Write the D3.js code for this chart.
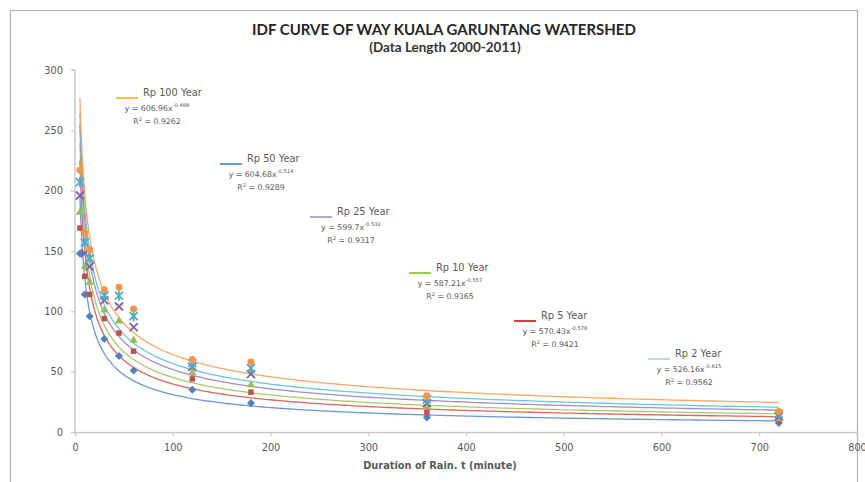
<!DOCTYPE html>
<html><head><meta charset="utf-8">
<script src="https://cdn.jsdelivr.net/npm/d3@7"></script>
<style>
body{margin:0;background:#fff;}
svg{display:block;}
</style></head>
<body>
<svg id="c" width="865" height="482"></svg>
<script>
// ---------- data ----------
const durations = [5, 10, 15, 30, 45, 60, 120, 180, 360, 720];
const rp2   = [148, 114,  96,  77,  63,  51, 35, 24, 12, 7.5];
const rp5   = [169, 129, 114,  94,  82,  67, 44, 33, 16, 9];
const rp10  = [182, 137, 124, 101,  92,  76, 49, 39, 21, 11];
const rp25  = [196, 148, 137, 109, 104,  87, 54, 48, 24, 13];
const rp50  = [207, 157, 144, 113, 113,  96, 57, 53, 27, 15];
const rp100 = [217, 165, 151, 118, 120, 102, 60, 58, 30, 17];
const seriesNames = ["Rp 2 Year", "Rp 5 Year", "Rp 10 Year", "Rp 25 Year", "Rp 50 Year", "Rp 100 Year"];
const coefA = [526.16, 570.43, 587.21, 599.7, 604.68, 606.96];
const coefB = [-0.615, -0.578, -0.557, -0.532, -0.514, -0.488];
const coefAText = ["526.16", "570.43", "587.21", "599.7", "604.68", "606.96"];
const coefBText = ["-0.615", "-0.578", "-0.557", "-0.532", "-0.514", "-0.488"];
const r2Text = ["0.9562", "0.9421", "0.9365", "0.9317", "0.9289", "0.9262"];
const xTicks = [0, 100, 200, 300, 400, 500, 600, 700, 800];
const yTicks = [0, 50, 100, 150, 200, 250, 300];
const titleText = "IDF CURVE OF WAY KUALA GARUNTANG WATERSHED";
const subtitleText = "(Data Length 2000-2011)";
const xTitle = "Duration of Rain. t (minute)";

// ---------- styles / layout ----------
const values = [rp2, rp5, rp10, rp25, rp50, rp100];
const markerColors = ["#4F81BD", "#C0504D", "#9BBB59", "#8064A2", "#4BACC6", "#F79646"];
const trendColors  = ["#5B8BD0", "#D9534F", "#9BC75A", "#9A80C0", "#5CC0D8", "#F7A055"];
const keyColors    = ["#B7DEE8", "#E03A3A", "#92D050", "#B4A7D6", "#6A9BD8", "#FFBE3C"];
const markerTypes  = ["diamond", "square", "triangle", "x", "star", "circle"];
// annotation anchors in pixels: [key line x, label centre y]
const annotPos = [[648, 353], [514, 315], [409, 267], [310, 211], [220, 158], [116, 92]];

const svg = d3.select("#c");
const x = d3.scaleLinear().domain([0, 800]).range([75, 857]);
const y = d3.scaleLinear().domain([0, 300]).range([432, 70]);
const grey = "#595959";
const fontNum = "'DejaVu Sans', Verdana, sans-serif";

// outer chart frame
svg.append("rect").attr("x", 10.5).attr("y", 10.5).attr("width", 847).attr("height", 520)
  .attr("fill", "none").attr("stroke", "#b0b0b0").attr("stroke-width", 1.2);

// title
svg.append("text").attr("x", 444).attr("y", 35).attr("text-anchor", "middle")
  .style("font-family", "Lato, sans-serif").attr("font-weight", "bold").attr("font-size", 15)
  .attr("fill", "#262626").text(titleText);
svg.append("text").attr("x", 445).attr("y", 52).attr("text-anchor", "middle")
  .style("font-family", "Lato, sans-serif").attr("font-weight", "bold").attr("font-size", 13.5)
  .attr("fill", "#333").text(subtitleText);

// axes
const yAxis = d3.axisLeft(y).tickValues(yTicks).tickSize(4).tickPadding(8);
const gy = svg.append("g").attr("transform", `translate(${x(0)},0)`).call(yAxis);
const xAxis = d3.axisBottom(x).tickValues(xTicks).tickSize(4).tickPadding(8);
const gx = svg.append("g").attr("transform", `translate(0,${y(0)})`).call(xAxis);
[gx, gy].forEach(g => {
  g.attr("font-family", null);
  g.select(".domain").attr("stroke", "#c8c8c8").attr("stroke-width", 1.5);
  g.selectAll(".tick line").attr("stroke", "#c8c8c8").attr("stroke-width", 1.2);
  g.selectAll(".tick text").attr("fill", grey).style("font-family", fontNum).attr("font-size", 9.8);
});
gy.select(".domain").attr("d", `M-4,${y(300)}H0V${y(0)}`);

svg.append("text").attr("x", 440).attr("y", 469).attr("text-anchor", "middle")
  .style("font-family", fontNum).attr("font-weight", "bold").attr("font-size", 9.8)
  .attr("fill", grey).text(xTitle);

// trendlines (power fits shown in the chart's equations)
const line = d3.line().x(d => x(d[0])).y(d => y(d[1])).curve(d3.curveLinear);
svg.append("clipPath").attr("id", "pc").append("rect")
  .attr("x", x(0)).attr("y", y(300)).attr("width", x(800) - x(0)).attr("height", y(0) - y(300));
const tg = svg.append("g").attr("clip-path", "url(#pc)");
const xs = d3.range(0, 400).map(i => 5 * Math.pow(720 / 5, i / 399));
coefA.forEach((a, k) => {
  const pts = xs.map(t => [t, a * Math.pow(t, coefB[k])]);
  tg.append("path").attr("d", line(pts)).attr("fill", "none")
    .attr("stroke", trendColors[k]).attr("stroke-width", 1.3).attr("opacity", 0.9);
});

// markers
const mg = svg.append("g");
function drawMarker(g, type, color, cx, cy) {
  if (type === "x") {
    const s = 4;
    g.append("path").attr("d", `M${cx - s},${cy - s}L${cx + s},${cy + s}M${cx - s},${cy + s}L${cx + s},${cy - s}`)
      .attr("stroke", color).attr("stroke-width", 1.8).attr("fill", "none");
  } else if (type === "star") {
    const s = 4;
    g.append("path").attr("d", `M${cx - s},${cy - s}L${cx + s},${cy + s}M${cx - s},${cy + s}L${cx + s},${cy - s}M${cx},${cy - s - 1}L${cx},${cy + s + 1}`)
      .attr("stroke", color).attr("stroke-width", 1.8).attr("fill", "none");
  } else if (type === "diamond") {
    const s = 4;
    g.append("path").attr("d", `M${cx},${cy - s}L${cx + s},${cy}L${cx},${cy + s}L${cx - s},${cy}Z`).attr("fill", color);
  } else {
    const sym = {square: d3.symbolSquare, triangle: d3.symbolTriangle, circle: d3.symbolCircle}[type];
    const size = {square: 30, triangle: 30, circle: 38}[type];
    g.append("path").attr("d", d3.symbol().type(sym).size(size)())
      .attr("transform", `translate(${cx},${cy})`).attr("fill", color);
  }
}
values.forEach((vals, k) => {
  vals.forEach((v, i) => drawMarker(mg, markerTypes[k], markerColors[k], x(durations[i]), y(v)));
});

// trendline annotations
const ag = svg.append("g").style("font-family", fontNum).attr("fill", grey);
seriesNames.forEach((name, k) => {
  const [lx, ly] = annotPos[k];
  ag.append("line").attr("x1", lx).attr("x2", lx + 22).attr("y1", ly + 6).attr("y2", ly + 6)
    .attr("stroke", keyColors[k]).attr("stroke-width", 2);
  ag.append("text").attr("x", lx + 27).attr("y", ly + 3.5).attr("font-size", 9.8).text(name);
  const eq = ag.append("text").attr("x", lx + 41).attr("y", ly + 18.5).attr("text-anchor", "middle").attr("font-size", 7.8);
  eq.append("tspan").text(`y = ${coefAText[k]}x`);
  eq.append("tspan").attr("dy", -3.5).attr("font-size", 5.2).text(coefBText[k]);
  const r = ag.append("text").attr("x", lx + 41).attr("y", ly + 32).attr("text-anchor", "middle").attr("font-size", 7.8);
  r.append("tspan").text("R");
  r.append("tspan").attr("dy", -3.5).attr("font-size", 5.2).text("2");
  r.append("tspan").attr("dy", 3.5).text(" = " + r2Text[k]);
});
</script>
</body></html>
